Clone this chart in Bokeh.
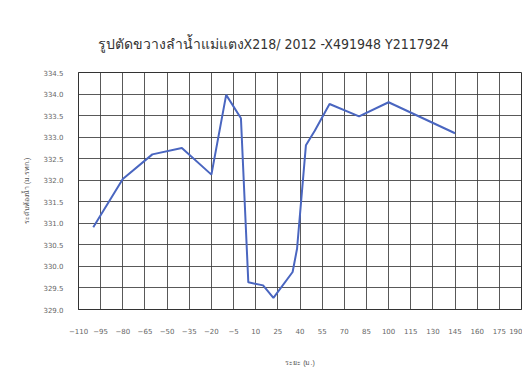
from bokeh.plotting import figure
from bokeh.models import Range1d, FixedTicker, PrintfTickFormatter
from bokeh.embed import file_html
from bokeh.resources import INLINE

title_text = "รูปตัดขวางลำน้ำแม่แตงX218/ 2012 -X491948 Y2117924"
x_title = "ระยะ (ม.)"
y_title = "ระดับท้องน้ำ (ม.รทก.)"

distance = [-100, -80, -60, -40, -20, -10, 0, 5, 15, 22, 35, 38, 44, 50, 60, 80, 100, 145]
elevation = [330.91, 332.03, 332.60, 332.75, 332.13, 333.98, 333.44, 329.63, 329.56,
             329.27, 329.87, 330.41, 332.81, 333.15, 333.77, 333.48, 333.81, 333.09]

x_ticks = [-110, -95, -80, -65, -50, -35, -20, -5, 10, 25, 40, 55, 70, 85, 100, 115,
           130, 145, 160, 175, 190]
y_ticks = [329.0, 329.5, 330.0, 330.5, 331.0, 331.5, 332.0, 332.5, 333.0, 333.5, 334.0, 334.5]

p = figure(width=522, height=378, output_backend="svg", toolbar_location=None,
           x_range=Range1d(-110, 190), y_range=Range1d(329.0, 334.5),
           title=title_text)
p.min_border_left = 78
p.min_border_right = 1
p.min_border_top = 72
p.min_border_bottom = 69
p.background_fill_color = "white"
p.border_fill_color = "white"
p.outline_line_color = "#333333"

p.title.align = "left"
p.title.offset = 19
p.title.standoff = 41
p.title.text_font = "DejaVu Sans Condensed"
p.title.text_font_size = "14px"
p.title.text_font_style = "normal"
p.title.text_color = "#333333"

p.line(distance, elevation, line_color="#4a66c0", line_width=2)

for ax in (p.xaxis[0], p.yaxis[0]):
    ax.axis_line_color = "#333333"
    ax.major_tick_line_color = None
    ax.minor_tick_line_color = None
    ax.major_label_text_font = "DejaVu Sans"
    ax.major_label_text_font_size = "7px"
    ax.major_label_text_color = "#666666"
    ax.axis_label_text_font_size = "7px"
    ax.axis_label_text_font_style = "normal"
    ax.axis_label_text_color = "#555555"

p.xaxis[0].ticker = FixedTicker(ticks=x_ticks)
p.yaxis[0].ticker = FixedTicker(ticks=y_ticks)
p.yaxis[0].formatter = PrintfTickFormatter(format="%.1f")
p.xaxis[0].major_label_standoff = 12
p.yaxis[0].major_label_standoff = 9
p.xaxis[0].axis_label = x_title
p.yaxis[0].axis_label = y_title
p.xaxis[0].axis_label_standoff = 22
p.yaxis[0].axis_label_standoff = 10

p.xgrid.ticker = FixedTicker(ticks=x_ticks)
p.ygrid.ticker = FixedTicker(ticks=y_ticks)
for g in (p.xgrid[0], p.ygrid[0]):
    g.grid_line_color = "#3c3c3c"
    g.grid_line_width = 1
    g.grid_line_alpha = 0.85

open("out.html", "w").write(file_html(p, INLINE))
